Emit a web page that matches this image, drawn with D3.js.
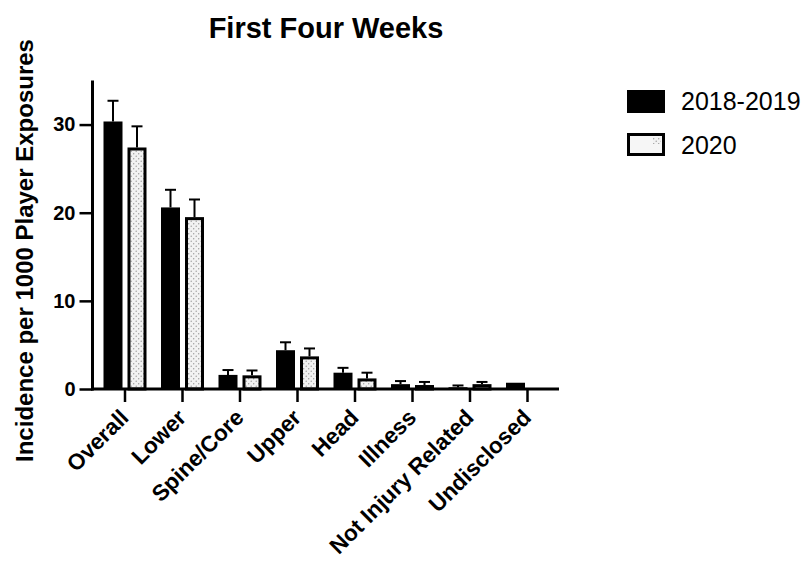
<!DOCTYPE html>
<html>
<head>
<meta charset="utf-8">
<script src="https://cdn.jsdelivr.net/npm/d3@7"></script>
<style>
  body { margin: 0; background: #fff; }
  svg { display: block; font-family: "Liberation Sans", Arial, Helvetica, sans-serif; }
</style>
</head>
<body>
<svg id="chart" width="802" height="562"></svg>
<script>
// ---- data ----
const categories = ["Overall", "Lower", "Spine/Core", "Upper", "Head", "Illness", "Not Injury Related", "Undisclosed"];
const seriesNames = ["2018-2019", "2020"];
const values2018 = [30.35, 20.6, 1.6, 4.4, 1.85, 0.55, 0.2, 0.71];
const upper2018  = [32.7, 22.6, 2.15, 5.3, 2.4, 0.9, 0.4, 0.71];
const values2020 = [27.4, 19.5, 1.55, 3.7, 1.2, 0.45, 0.55, 0];
const upper2020  = [29.8, 21.5, 2.1, 4.6, 1.85, 0.8, 0.8, 0];
const yTicks = [0, 10, 20, 30];
const title = "First Four Weeks";
const yLabel = "Incidence per 1000 Player Exposures";

const svg = d3.select("#chart");

// pattern for 2020 bars
const defs = svg.append("defs");
const pat = defs.append("pattern").attr("id", "dots").attr("patternUnits", "userSpaceOnUse")
  .attr("width", 5).attr("height", 5);
pat.append("rect").attr("width", 5).attr("height", 5).attr("fill", "#f2f2f2");
pat.append("circle").attr("cx", 1.2).attr("cy", 1.2).attr("r", 0.7).attr("fill", "#9a9a9a");
pat.append("circle").attr("cx", 3.7).attr("cy", 3.7).attr("r", 0.7).attr("fill", "#9a9a9a");

// scales
const y = d3.scaleLinear().domain([0, 35]).range([389, 80.5]);
const x0 = d3.scaleBand().domain(categories).range([96.25, 556.25]).paddingInner(0).paddingOuter(0);
const x1 = d3.scaleBand().domain(seriesNames).range([-21.5, 21.5]).paddingInner(5 / 24).paddingOuter(0);

const rows = categories.map((c, i) => ({
  cat: c,
  bars: [
    { s: seriesNames[0], v: values2018[i], u: upper2018[i] },
    { s: seriesNames[1], v: values2020[i], u: upper2020[i] }
  ]
}));

// title
svg.append("text").attr("x", 326).attr("y", 38).attr("text-anchor", "middle")
  .style("font-size", "29px").style("font-weight", "bold").text(title);

// y label
svg.append("text").attr("transform", "translate(33,250.5) rotate(-90)")
  .attr("text-anchor", "middle").style("font-size", "24px").style("font-weight", "bold").text(yLabel);

// bars
const g = svg.append("g");
rows.forEach(r => {
  const cx = x0(r.cat) + x0.bandwidth() / 2;
  r.bars.forEach((b, j) => {
    if (b.v <= 0) return;
    const bx = cx + x1(b.s);
    const bw = x1.bandwidth();
    if (j === 0) {
      g.append("rect").attr("x", bx).attr("y", y(b.v)).attr("width", bw)
        .attr("height", y(0) - y(b.v)).attr("fill", "#000");
    } else {
      g.append("rect").attr("x", bx + 1.5).attr("y", y(b.v) + 1.5).attr("width", bw - 3)
        .attr("height", Math.max(0, y(0) - y(b.v) - 1.5)).attr("fill", "url(#dots)")
        .attr("stroke", "#000").attr("stroke-width", 3);
    }
    if (b.u > b.v) {
      const ex = bx + bw / 2;
      g.append("line").attr("x1", ex).attr("x2", ex).attr("y1", y(b.v)).attr("y2", y(b.u))
        .attr("stroke", "#000").attr("stroke-width", 2);
      g.append("line").attr("x1", ex - 5.5).attr("x2", ex + 5.5).attr("y1", y(b.u)).attr("y2", y(b.u))
        .attr("stroke", "#000").attr("stroke-width", 2);
    }
  });
});

// y axis
const yAxis = d3.axisLeft(y).tickValues(yTicks).tickSize(13).tickPadding(4).tickSizeOuter(0);
const gy = svg.append("g").attr("transform", "translate(92.5,0)").call(yAxis)
  .attr("font-size", null).attr("font-family", null);
gy.select(".domain").attr("stroke-width", 3).attr("d", `M0,${y(35)}V${y(0) + 1.5}`);
gy.selectAll(".tick line").attr("stroke-width", 2.5);
gy.selectAll(".tick text").style("font-size", "20px").style("font-weight", "bold")
  .style("font-family", "'Liberation Sans', Arial, sans-serif").attr("fill", "#000");

// x axis
const xAxis = d3.axisBottom(x0).tickSize(13).tickSizeOuter(0).tickFormat("");
const gx = svg.append("g").attr("transform", `translate(0,${y(0)})`).call(xAxis);
gx.select(".domain").attr("stroke-width", 3).attr("d", "M91,0H559");
gx.selectAll(".tick line").attr("stroke-width", 2.5);

// x labels
svg.append("g").selectAll("text").data(categories).join("text")
  .attr("transform", d => `translate(${x0(d) + x0.bandwidth() / 2 + 5},419) rotate(-45)`)
  .attr("text-anchor", "end").style("font-size", "22.5px").style("font-weight", "bold").text(d => d);

// legend
const lg = svg.append("g");
lg.append("rect").attr("x", 627).attr("y", 90).attr("width", 38).attr("height", 23).attr("fill", "#000");
lg.append("rect").attr("x", 628.5).attr("y", 134.5).attr("width", 35).attr("height", 20)
  .attr("fill", "#f6f6f6").attr("stroke", "#000").attr("stroke-width", 3);
lg.append("rect").attr("x", 653).attr("y", 137).attr("width", 8).attr("height", 7).attr("fill", "url(#dots)");
lg.append("text").attr("x", 681).attr("y", 110).style("font-size", "25px").text(seriesNames[0]);
lg.append("text").attr("x", 681).attr("y", 154).style("font-size", "25px").text(seriesNames[1]);
</script>
</body>
</html>
